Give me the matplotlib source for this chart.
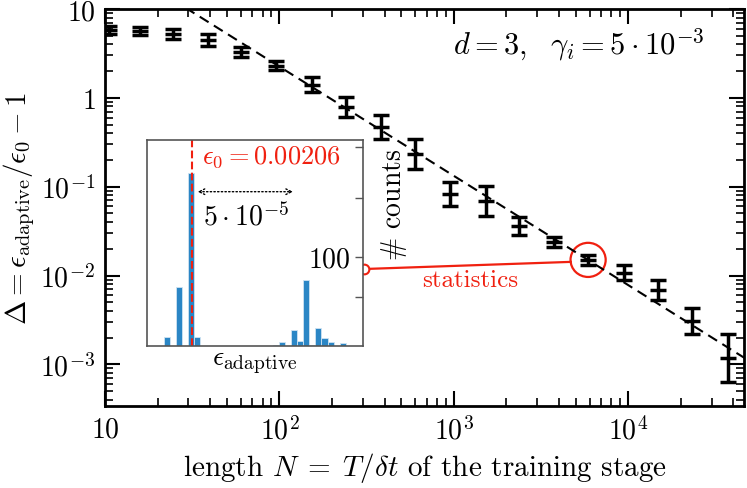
import numpy as np
import matplotlib
matplotlib.use('Agg')
import matplotlib.pyplot as plt
from matplotlib.patches import Ellipse

plt.rcParams['font.family'] = 'serif'
plt.rcParams['font.serif'] = ['cmr10']
plt.rcParams['mathtext.fontset'] = 'cm'
plt.rcParams['axes.formatter.use_mathtext'] = True
plt.rcParams['axes.unicode_minus'] = False

# main data: training length N and relative error Delta
N = [10.5, 15.8, 24.5, 39, 60, 96, 153, 240, 380, 600, 950,
     1520, 2370, 3760, 5900, 9400, 14700, 23300, 37000]
delta = [5.74, 5.6, 5.27, 4.43, 3.27, 2.31, 1.40, 0.786, 0.467, 0.234, 0.0827,
         0.0696, 0.0363, 0.024, 0.0150, 0.0108, 0.00684, 0.00309, 0.00117]
# error bar half width in decades
dlog = [0.045, 0.045, 0.056, 0.068, 0.056, 0.056, 0.085, 0.113, 0.135, 0.169, 0.135,
        0.169, 0.10, 0.056, 0.056, 0.085, 0.113, 0.147, 0.27]
# power law fit  Delta = A * N^-b
fit_A = 647.0
fit_b = 1.23

# inset histogram of eps_adaptive
eps0 = 0.00206
bin_w = 3e-6
bin_idx = [-4, -2, 0, 1, 14, 15, 17, 18, 19, 20, 21, 22, 23, 25]
counts = [10.6, 66, 194, 10.6, 1, 4, 18, 6, 74, 1, 20, 9, 5, 3]

N = np.array(N)
delta = np.array(delta)
dlog = np.array(dlog)
lo = delta - delta * 10**(-dlog)
hi = delta * 10**dlog - delta

red = '#f02010'

fig = plt.figure(figsize=(7.47, 4.89), dpi=100)
ax = fig.add_axes([0.1406, 0.1677, 0.8554, 0.8119])
ax.set_xscale('log')
ax.set_yscale('log')

nn = np.logspace(1, 4.7, 100)
ax.plot(nn, fit_A * nn**(-fit_b), 'k--', lw=1.5, dashes=(5, 3))
ax.errorbar(N, delta, yerr=[lo, hi], fmt='_', color='k', ms=11, mew=2.5,
            elinewidth=2.5, capsize=6, capthick=2.5)

ax.set_xlim(10, 4.6e4)
ax.set_ylim(3.4e-4, 10)
ax.set_xticks([10, 100, 1000, 10000])
ax.set_xticklabels(['$10$', '$10^2$', '$10^3$', '$10^4$'])
ax.set_yticks([1e-3, 1e-2, 1e-1, 1, 10])
ax.set_yticklabels(['$10^{-3}$', '$10^{-2}$', '$10^{-1}$', '$1$', '$10$'])
ax.tick_params(which='both', direction='in', top=True, right=True, labelsize=20)
ax.tick_params(which='major', length=11, width=1.5, pad=7)
ax.tick_params(which='minor', length=6, width=1.2)
for s in ax.spines.values():
    s.set_linewidth(2)
ax.set_xlabel(r'length $N\;=\;T/\delta t$ of the training stage', fontsize=21, labelpad=4)
ax.set_ylabel(r'$\Delta=\epsilon_{\rm adaptive}/\epsilon_0-1$', fontsize=21, labelpad=2)
ax.text(0.939, 0.912, r'$d=3,\ \ \gamma_i=5\cdot10^{-3}$', transform=ax.transAxes,
        ha='right', va='center', fontsize=22)

# highlight point and connector
ax.add_patch(Ellipse((0.756, 0.368), 0.055, 0.086, transform=ax.transAxes,
                     fill=False, ec=red, lw=1.6))
ax.plot([0.405, 0.729], [0.345, 0.363], transform=ax.transAxes, color=red, lw=1.6)
ax.plot([0.405], [0.345], 'o', mfc='white', mec=red, mew=1.5, ms=7,
        transform=ax.transAxes, clip_on=False, zorder=5)
ax.text(0.571, 0.317, 'statistics', transform=ax.transAxes, color=red,
        ha='center', va='center', fontsize=18)

# inset
ins = fig.add_axes([0.1968, 0.2904, 0.2892, 0.4213])
centers = eps0 - 0.4e-6 + np.array(bin_idx) * bin_w
ins.bar(centers, counts, width=bin_w, color='#2b86c5', edgecolor='#cfe3f2', lw=0.6)
ins.axvline(eps0, color=red, ls='--', lw=1.5)
ins.set_xlim(eps0 - 2.23e-5, eps0 - 2.23e-5 + 1.07e-4)
ins.set_ylim(0, 231)
ins.annotate('', xy=(eps0 + 5.14e-5, 173), xytext=(eps0 + 0.14e-5, 173),
             arrowprops=dict(arrowstyle='<->', ls=':', color='k', lw=1))
ins.text(eps0 + 2.66e-5, 146, r'$5\cdot10^{-5}$', ha='center', va='center', fontsize=20)
ins.text(eps0 + 0.47e-5, 213, r'$\epsilon_0=0.00206$', color=red,
         ha='left', va='center', fontsize=19)
ins.set_xticks([])
ins.yaxis.tick_right()
ins.set_yticks([55, 100, 166, 223])
ins.set_yticklabels(['', '$100$', '', ''])
ins.tick_params(axis='y', direction='in', length=6, width=1, pad=-9, labelsize=20,
                colors='#555555', labelcolor='k')
for lab in ins.get_yticklabels():
    lab.set_horizontalalignment('right')
ins.yaxis.set_label_position('right')
ins.set_ylabel(r'$\#$ counts', fontsize=20)
ins.yaxis.set_label_coords(1.075, 0.69)
ins.set_xlabel(r'$\epsilon_{\rm adaptive}$', fontsize=20, labelpad=2)
for s in ins.spines.values():
    s.set_color('#555555')
    s.set_linewidth(1.2)

fig.savefig('out.png', dpi=100)
